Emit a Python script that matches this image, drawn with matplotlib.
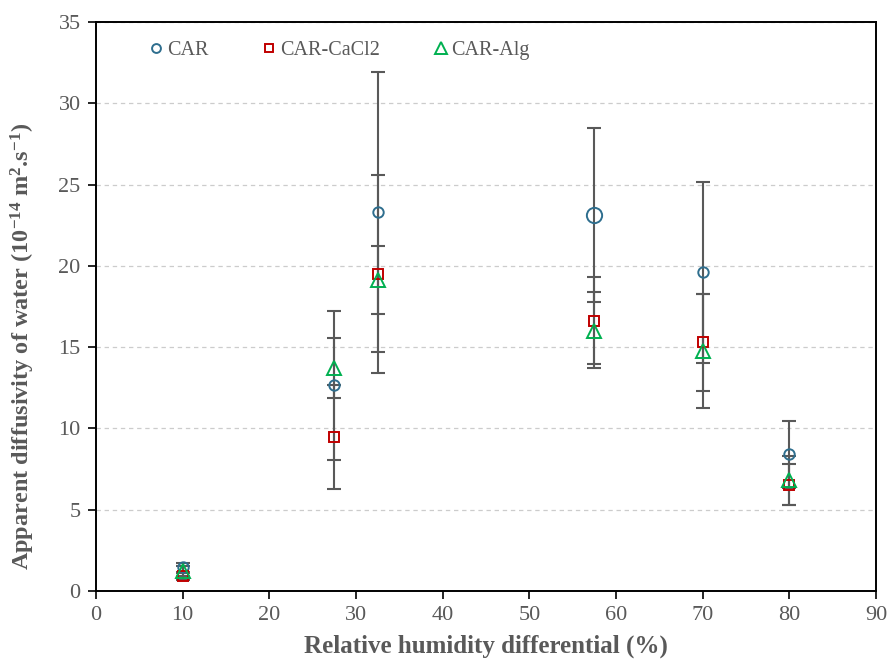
import matplotlib
matplotlib.use("Agg")
import matplotlib.pyplot as plt
import numpy as np

# relative humidity differential (%)
rh = [10, 27.5, 32.5, 57.5, 70, 80]

# apparent diffusivity (1e-14 m2/s) and error bar ends (lower, upper)
car = [1.45, 12.7, 23.3, 23.1, 19.6, 8.4]
car_lo = [1.15, 11.85, 14.7, 17.75, 14.05, 6.35]
car_hi = [1.75, 15.55, 31.95, 28.5, 25.15, 10.45]

cacl2 = [0.9, 9.5, 19.5, 16.6, 15.3, 6.55]
cacl2_lo = [0.7, 6.3, 13.4, 13.95, 12.3, 5.3]
cacl2_hi = [1.1, 12.7, 25.6, 19.3, 18.3, 7.8]

alg = [1.25, 13.7, 19.1, 16.0, 14.75, 6.8]
alg_lo = [0.95, 8.05, 17.05, 13.7, 11.25, 5.3]
alg_hi = [1.55, 17.2, 21.25, 18.4, 18.25, 8.3]

plt.rcParams['font.family'] = ['Liberation Serif', 'DejaVu Serif']
plt.rcParams['mathtext.default'] = 'regular'

grey = '#595959'
fig = plt.figure(figsize=(8.88, 6.61), dpi=100)
ax = fig.add_axes([0.1081, 0.1059, 0.8784, 0.8608])

series = [
    ('CAR', car, car_lo, car_hi, 'o', '#2e6e8e', 7.5),
    ('CAR-CaCl2', cacl2, cacl2_lo, cacl2_hi, 's', '#c00000', 7),
    ('CAR-Alg', alg, alg_lo, alg_hi, '^', '#00b050', 9.5),
]

for name, y, lo, hi, mk, col, ms in series:
    y = np.array(y)
    yerr = [y - np.array(lo), np.array(hi) - y]
    ax.errorbar(rh, y, yerr=yerr, fmt='none', ecolor=grey, elinewidth=1.5,
                capsize=5, capthick=1.5, zorder=2)

for name, y, lo, hi, mk, col, ms in series:
    sizes = [ms] * len(y)
    if name == 'CAR':
        sizes[3] = 11  # bigger marker at 57.5 in the original
    for i, (xv, yv) in enumerate(zip(rh, y)):
        ax.plot(xv, yv, linestyle='none', marker=mk, markersize=sizes[i],
                markerfacecolor='none', markeredgecolor=col,
                markeredgewidth=1.4, zorder=3,
                label=name if i == 0 else None)

ax.set_xlim(0, 90)
ax.set_ylim(0, 35)
ax.set_xticks(np.arange(0, 91, 10))
ax.set_yticks(np.arange(0, 36, 5))
ax.yaxis.grid(True, linestyle=(0, (3.5, 3)), color='#cccccc', linewidth=0.9)
ax.set_axisbelow(True)

for sp in ax.spines.values():
    sp.set_linewidth(1.4)
    sp.set_color('black')
ax.tick_params(axis='both', direction='out', length=6, width=1.2,
               labelsize=16, labelcolor=grey, pad=5)

ax.set_xlabel('Relative humidity differential (%)', fontsize=18,
              fontweight='bold', color=grey, labelpad=7)
ax.set_ylabel('Apparent diffusivity of water (10$^{-14}$ m$^{2}$.s$^{-1}$)',
              fontsize=17.5, fontweight='bold', color=grey)
ax.yaxis.set_label_coords(-0.075, 0.43)

leg = ax.legend(loc='upper left', bbox_to_anchor=(0.041, 0.999), ncol=3,
                frameon=False, fontsize=14.5, handletextpad=0.05,
                columnspacing=2.5, handlelength=1.0, markerscale=0.85)
for t in leg.get_texts():
    t.set_color(grey)

fig.savefig('out.png', dpi=100)
